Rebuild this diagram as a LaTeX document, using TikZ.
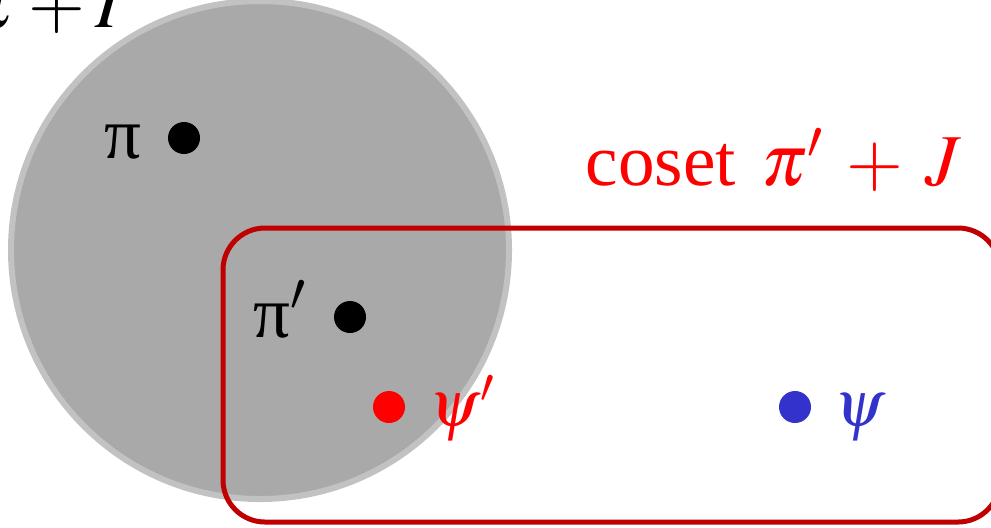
\documentclass[tikz,border=0pt]{standalone}
\usepackage{mathptmx}
\usepackage{fontspec}
\setmainfont{Liberation Serif}
\usetikzlibrary{positioning}
\definecolor{ballgray}{HTML}{A9A9A9}
\definecolor{rimgray}{HTML}{C2C2C2}
\definecolor{cosetred}{HTML}{C00000}
\definecolor{psired}{HTML}{FF0000}
\definecolor{psiblue}{HTML}{3333CC}

\begin{document}
\begin{tikzpicture}[x=1cm,y=1cm,font=\fontsize{20.8}{25}\selectfont,
  dot/.style={circle,fill,inner sep=0pt,minimum size=0.32cm},
  lbl/.style={inner sep=0pt},
  psilbl/.style={inner sep=0pt,anchor=base west,scale=0.9}]
  \useasboundingbox (0,0) rectangle (9.91,5.27);
  % coset pi + I
  \node[circle,fill=ballgray,draw=rimgray,line width=0.06cm,minimum size=4.98cm] (ball) at (2.60,2.77) {};
  \node[lbl,anchor=base east] (ballname) at (1.24,5.00) {coset \hspace{0.1em}$\pi\mskip1mu+\mskip0mu I$};
  % coset pi' + J
  \draw[cosetred,line width=0.05cm,rounded corners=0.42cm] (2.23,0.05) rectangle (10.00,2.99);
  \node[lbl,anchor=base west,text=psired] (boxname) at (5.85,3.42) {coset \hspace{0.1em}$\pi'\mskip3mu+\mskip3mu J$};
  % points
  \node[dot] (pi) at (1.84,3.89) {};
  \node[dot] (piprime) at (3.50,2.10) {};
  \node[dot,psired] (psiprime) at (3.89,1.20) {};
  \node[dot,psiblue] (psi) at (7.95,1.20) {};
  \node[lbl,anchor=base east] (pilbl) at (1.42,3.69) {π};
  \node[lbl,anchor=base east] (piprimelbl) at (3.08,1.90) {π$'$};
  \node[psilbl,text=psired] (psiprimelbl) at (4.29,1.01) {$\psi'$};
  \node[psilbl,text=psiblue] (psilbl) at (8.34,1.01) {$\psi$};
\end{tikzpicture}
\end{document}
